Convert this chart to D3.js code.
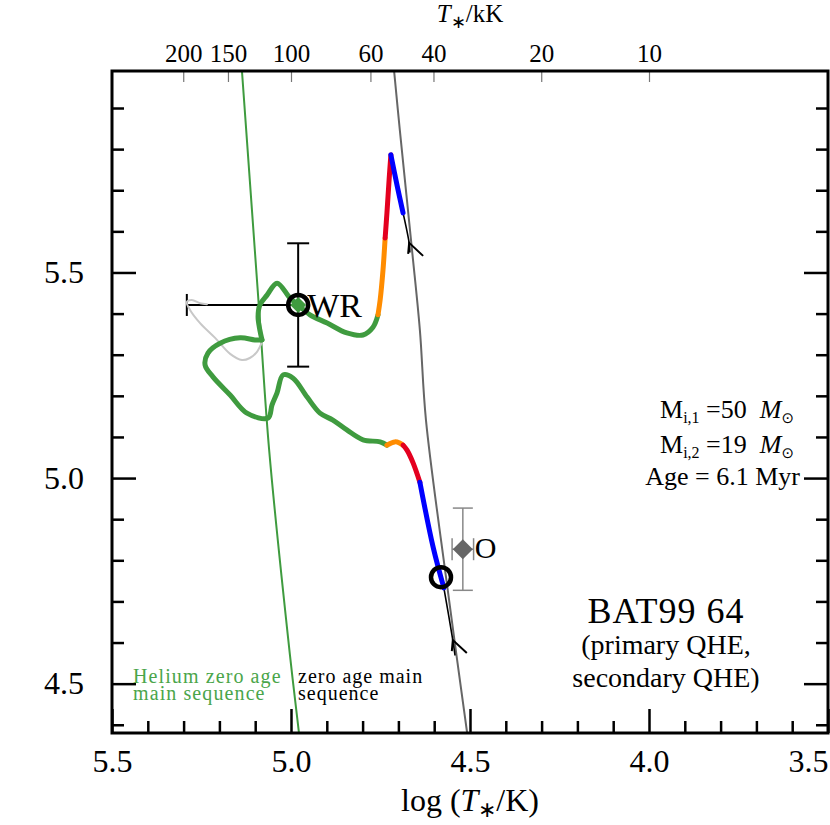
<!DOCTYPE html>
<html>
<head>
<meta charset="utf-8">
<script src="https://cdn.jsdelivr.net/npm/d3@7"></script>
<style>
  html, body { margin: 0; padding: 0; background: #fff; }
  svg { display: block; font-family: "Liberation Serif", "Times New Roman", serif; }
</style>
</head>
<body>
<svg id="chart" width="830" height="825"></svg>
<script>
// ---------- data (log T*/K, log L/Lsun) ----------
const xDomain = [5.5, 3.5];
const yDomain = [4.38, 5.99];
const xMajorTicks = [5.5, 5.0, 4.5, 4.0, 3.5];
const xMinorTicks = d3.range(35, 56).map(d => d / 10);
const yMajorTicks = [4.5, 5.0, 5.5];
const yMinorTicks = d3.range(44, 60).map(d => d / 10);
const topTicksKK = [200, 150, 100, 60, 40, 20, 10];

const zams = [[4.712,5.99],[4.696,5.846],[4.662,5.555],[4.640,5.360],[4.623,5.141],[4.567,4.759],[4.536,4.558],[4.508,4.38]];
const heZams = [[5.137,5.99],[5.087,5.384],[5.061,5.068],[5.003,4.570],[4.978,4.382]];

// primary
const p1Thin   = [[4.668,5.550],[4.670,5.572],[4.687,5.645]];
const p1Blue   = [[4.687,5.645],[4.704,5.713],[4.721,5.786]];
const p1Red    = [[4.721,5.786],[4.726,5.725],[4.732,5.645],[4.737,5.584]];
const p1Orange = [[4.737,5.584],[4.743,5.506],[4.751,5.433],[4.757,5.397]];
const p1Green  = [[4.757,5.397],[4.771,5.367],[4.799,5.348],[4.844,5.353],[4.899,5.377],[4.947,5.397],[4.980,5.421],[5.003,5.438],[5.039,5.474],[5.067,5.445],[5.087,5.421],[5.092,5.392],[5.087,5.360],[5.081,5.336]];
const p1Grey   = [[5.081,5.331],[5.095,5.307],[5.115,5.292],[5.137,5.287],[5.170,5.302],[5.212,5.341],[5.254,5.377],[5.282,5.409],[5.291,5.428],[5.277,5.433],[5.254,5.425],[5.235,5.423]];

// secondary
const p2Thin   = [[4.542,4.570],[4.548,4.606],[4.573,4.733]];
const p2Blue   = [[4.573,4.733],[4.603,4.832],[4.640,4.990]];
const p2Red    = [[4.640,4.990],[4.659,5.037],[4.676,5.068],[4.687,5.080]];
const p2Orange = [[4.687,5.080],[4.696,5.085],[4.710,5.088],[4.732,5.080]];
const p2Green  = [[4.732,5.080],[4.751,5.088],[4.799,5.093],[4.844,5.117],[4.883,5.141],[4.919,5.158],[4.955,5.197],[4.994,5.243],[5.022,5.251],[5.039,5.207],[5.053,5.178],[5.064,5.146],[5.123,5.158],[5.170,5.202],[5.218,5.246],[5.240,5.275],[5.232,5.304],[5.198,5.328],[5.142,5.341],[5.101,5.336],[5.081,5.336]];

const arrowAnchors = [[4.670,5.572],[4.548,4.606]];
const modelNow = [[4.980,5.421],[4.581,4.759]];

const wrObs = {t: 4.980, l: 5.421, lErr: 0.15, tLeft: 5.291};
const oObs  = {t: 4.520, l: 4.827, lErr: 0.10, tErr: 0.03};

const infoLines = [["M", "i,1", " =50"], ["M", "i,2", " =19"]];
const ageText = "Age = 6.1 Myr";
const titleLines = ["BAT99 64", "(primary QHE,", "secondary QHE)"];
const heLabelLines = ["Helium zero age", "main sequence"];
const zamsLabelLines = ["zero age main", "sequence"];

// ---------- colours ----------
const cGreen = "#3f9b3f", cBlue = "#0000ff", cRed = "#e4001f", cOrange = "#ff8c00";

// ---------- scales ----------
const svg = d3.select("#chart");
const x = d3.scaleLinear().domain(xDomain).range([112, 828]);
const y = d3.scaleLinear().domain(yDomain).range([733, 71]);
const [x0, x1] = x.range(), [y0, y1] = [y.range()[1], y.range()[0]];

svg.append("defs").append("clipPath").attr("id", "clip")
  .append("rect").attr("x", x0).attr("y", y0).attr("width", x1 - x0).attr("height", y1 - y0);

const plot = svg.append("g").attr("clip-path", "url(#clip)");
const line = d3.line().x(d => x(d[0])).y(d => y(d[1])).curve(d3.curveCatmullRom.alpha(0.5));

// reference lines
plot.append("path").attr("d", line(zams)).attr("fill", "none").attr("stroke", "#666").attr("stroke-width", 2);
plot.append("path").attr("d", line(heZams)).attr("fill", "none").attr("stroke", cGreen).attr("stroke-width", 2);

// WR error bars
const eb = plot.append("g").attr("stroke", "#000").attr("stroke-width", 2);
eb.append("line").attr("x1", x(wrObs.t)).attr("x2", x(wrObs.t)).attr("y1", y(wrObs.l + wrObs.lErr)).attr("y2", y(wrObs.l - wrObs.lErr));
[wrObs.l + wrObs.lErr, wrObs.l - wrObs.lErr].forEach(v => {
  eb.append("line").attr("x1", x(wrObs.t) - 11).attr("x2", x(wrObs.t) + 11).attr("y1", y(v)).attr("y2", y(v));
});
eb.append("line").attr("x1", x(wrObs.tLeft)).attr("x2", x(wrObs.t)).attr("y1", y(wrObs.l)).attr("y2", y(wrObs.l));
eb.append("line").attr("x1", x(wrObs.tLeft)).attr("x2", x(wrObs.tLeft)).attr("y1", y(wrObs.l) - 11).attr("y2", y(wrObs.l) + 11);

// O error bars
const eo = plot.append("g").attr("stroke", "#888").attr("stroke-width", 1.5);
eo.append("line").attr("x1", x(oObs.t)).attr("x2", x(oObs.t)).attr("y1", y(oObs.l + oObs.lErr)).attr("y2", y(oObs.l - oObs.lErr));
[oObs.l + oObs.lErr, oObs.l - oObs.lErr].forEach(v => {
  eo.append("line").attr("x1", x(oObs.t) - 10).attr("x2", x(oObs.t) + 10).attr("y1", y(v)).attr("y2", y(v));
});
eo.append("line").attr("x1", x(oObs.t + oObs.tErr)).attr("x2", x(oObs.t - oObs.tErr)).attr("y1", y(oObs.l)).attr("y2", y(oObs.l));
[oObs.t + oObs.tErr, oObs.t - oObs.tErr].forEach(v => {
  eo.append("line").attr("x1", x(v)).attr("x2", x(v)).attr("y1", y(oObs.l) - 11).attr("y2", y(oObs.l) + 11);
});

// tracks
function track(data, color, width) {
  plot.append("path").attr("d", line(data)).attr("fill", "none").attr("stroke", color)
    .attr("stroke-width", width).attr("stroke-linecap", "round").attr("stroke-linejoin", "round");
}
track(p1Grey, "#c8c8c8", 2);
track(p1Thin, "#000", 1.6);
track(p2Thin, "#000", 1.6);
track(p1Green, cGreen, 5);
track(p2Green, cGreen, 5);
track(p1Orange, cOrange, 5);
track(p2Orange, cOrange, 5);
track(p1Red, cRed, 5);
track(p2Red, cRed, 5);
track(p1Blue, cBlue, 5);
track(p2Blue, cBlue, 5);

// arrowheads
plot.selectAll(".arrow").data(arrowAnchors).join("path").attr("class", "arrow")
  .attr("transform", d => `translate(${x(d[0])},${y(d[1])})`)
  .attr("d", "M-1,11L0,0L14,13").attr("fill", "none").attr("stroke", "#000").attr("stroke-width", 2);

// current model positions
plot.selectAll(".now").data(modelNow).join("circle").attr("class", "now")
  .attr("cx", d => x(d[0])).attr("cy", d => y(d[1])).attr("r", 10)
  .attr("fill", "none").attr("stroke", "#000").attr("stroke-width", 4.5);

// observed diamonds
const diamond = s => `M0,${-s}L${s},0L0,${s}L${-s},0Z`;
plot.append("path").attr("transform", `translate(${x(wrObs.t)},${y(wrObs.l)})`).attr("d", diamond(8)).attr("fill", cGreen);
plot.append("path").attr("transform", `translate(${x(oObs.t)},${y(oObs.l)})`).attr("d", diamond(10)).attr("fill", "#666");

// labels for stars
svg.append("text").attr("x", x(wrObs.t) + 9).attr("y", y(wrObs.l) + 12).attr("font-size", 34).text("WR");
svg.append("text").attr("x", x(oObs.t) + 12).attr("y", y(oObs.l) + 9).attr("font-size", 30).text("O");

// ---------- axes ----------
function styleAxis(g, fs) {
  g.select(".domain").remove();
  g.selectAll(".tick line").attr("stroke", "#000").attr("stroke-width", 2.5);
  g.selectAll(".tick text").attr("font-size", fs).attr("fill", "#000").attr("font-family", "Liberation Serif");
}
const fmt = d3.format(".1f");
const minorX = xMinorTicks.filter(v => !xMajorTicks.some(m => Math.abs(m - v) < 1e-6));
const minorY = yMinorTicks.filter(v => !yMajorTicks.some(m => Math.abs(m - v) < 1e-6));

svg.append("g").attr("transform", `translate(0,${y1})`).call(d3.axisBottom(x).tickValues(minorX).tickSize(-12).tickFormat(""))
  .call(g => styleAxis(g, 32));
svg.append("g").attr("transform", `translate(0,${y1})`).call(d3.axisBottom(x).tickValues(xMajorTicks).tickSize(-24).tickPadding(16).tickFormat(fmt))
  .call(g => styleAxis(g, 32))
  .call(g => g.selectAll(".tick text").filter(d => d === 3.5).attr("text-anchor", "end").attr("x", 0));
svg.append("g").attr("transform", `translate(${x0},0)`).call(d3.axisLeft(y).tickValues(minorY).tickSize(-12).tickFormat(""))
  .call(g => styleAxis(g, 32));
svg.append("g").attr("transform", `translate(${x0},0)`).call(d3.axisLeft(y).tickValues(yMajorTicks).tickSize(-24).tickPadding(28).tickFormat(fmt))
  .call(g => styleAxis(g, 32));
svg.append("g").attr("transform", `translate(${x1},0)`).call(d3.axisRight(y).tickValues(minorY).tickSize(-12).tickFormat(""))
  .call(g => styleAxis(g, 32));
svg.append("g").attr("transform", `translate(${x1},0)`).call(d3.axisRight(y).tickValues(yMajorTicks).tickSize(-24).tickFormat(""))
  .call(g => styleAxis(g, 32));
svg.append("g").attr("transform", `translate(0,${y0})`)
  .call(d3.axisTop(x).tickValues(topTicksKK.map(t => Math.log10(t * 1000))).tickSize(-11).tickPadding(9)
    .tickFormat((d, i) => topTicksKK[i]))
  .call(g => {
    g.select(".domain").remove();
    g.selectAll(".tick line").attr("stroke", "#777").attr("stroke-width", 1.2);
    g.selectAll(".tick text").attr("font-size", 25).attr("fill", "#000").attr("font-family", "Liberation Serif");
  });

// frame
svg.append("rect").attr("x", x0).attr("y", y0).attr("width", x1 - x0).attr("height", y1 - y0)
  .attr("fill", "none").attr("stroke", "#000").attr("stroke-width", 3);

// axis titles
const xt = svg.append("text").attr("x", (x0 + x1) / 2).attr("y", 811).attr("text-anchor", "middle").attr("font-size", 32);
xt.append("tspan").text("log (");
xt.append("tspan").attr("font-style", "italic").text("T");
xt.append("tspan").attr("font-size", 22).attr("dy", 6).text("\u2217");
xt.append("tspan").attr("dy", -6).text("/K)");

const tt = svg.append("text").attr("x", (x0 + x1) / 2).attr("y", 22).attr("text-anchor", "middle").attr("font-size", 25);
tt.append("tspan").attr("font-style", "italic").text("T");
tt.append("tspan").attr("font-size", 18).attr("dy", 6).text("\u2217");
tt.append("tspan").attr("dy", -6).text("/kK");

// info text
infoLines.forEach((l, i) => {
  const t = svg.append("text").attr("x", 794).attr("y", 418 + i * 35).attr("text-anchor", "end").attr("font-size", 26);
  t.append("tspan").text(l[0]);
  t.append("tspan").attr("font-size", 16).attr("dy", 5).text(l[1]);
  t.append("tspan").attr("dy", -5).text(l[2] + "\u00a0\u00a0");
  t.append("tspan").attr("font-style", "italic").text("M");
  t.append("tspan").attr("font-size", 15).attr("dy", 5).attr("font-family", "DejaVu Sans").text("\u2299");
});
svg.append("text").attr("x", 800).attr("y", 485).attr("text-anchor", "end").attr("font-size", 26).text(ageText);

// title block
svg.append("text").attr("x", 666).attr("y", 623).attr("text-anchor", "middle").attr("font-size", 36).attr("letter-spacing", 1).text(titleLines[0]);
svg.append("text").attr("x", 666).attr("y", 654).attr("text-anchor", "middle").attr("font-size", 28).text(titleLines[1]);
svg.append("text").attr("x", 666).attr("y", 687).attr("text-anchor", "middle").attr("font-size", 28).text(titleLines[2]);

// line labels
heLabelLines.forEach((s, i) => {
  svg.append("text").attr("x", 133).attr("y", 683 + i * 17).attr("font-size", 20).attr("letter-spacing", 1.1)
    .attr("fill", "#4aa54a").text(s);
});
zamsLabelLines.forEach((s, i) => {
  svg.append("text").attr("x", 298).attr("y", 683 + i * 17).attr("font-size", 20).attr("letter-spacing", 1)
    .attr("fill", "#000").text(s);
});
</script>
</body>
</html>
